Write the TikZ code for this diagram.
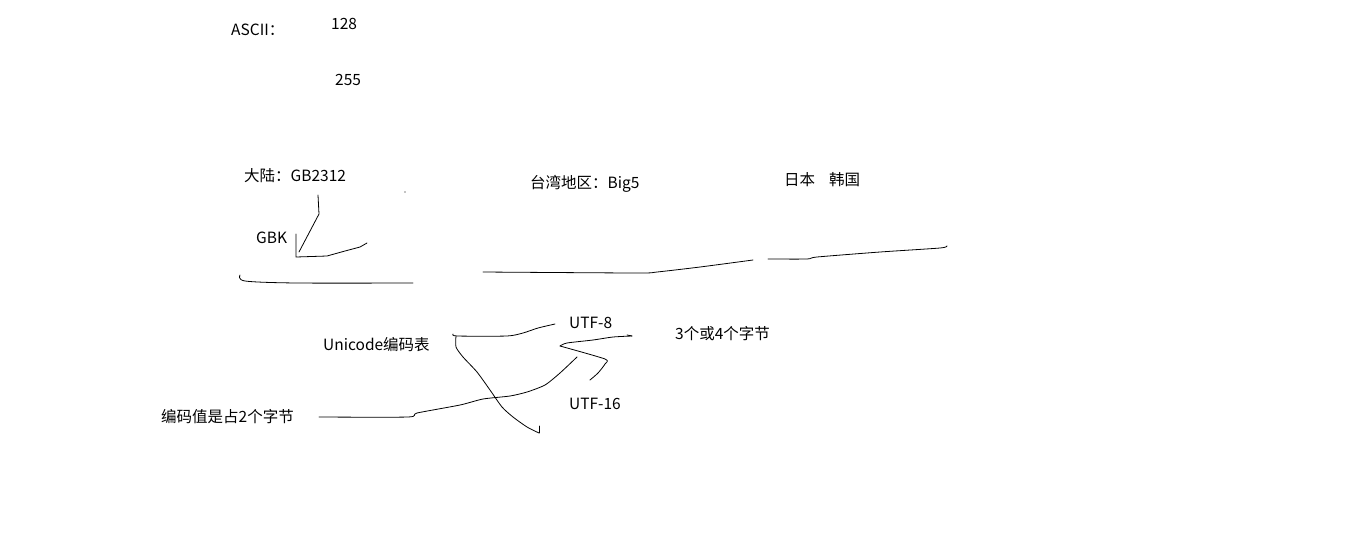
\documentclass[tikz,border=0pt]{standalone}
\usepackage{fontspec}
\setmainfont{Noto Sans CJK SC}
\begin{document}
\begin{tikzpicture}[x=1pt,y=-1pt,
  lbl/.style={anchor=west,inner sep=0pt,font=\fontsize{15.5}{17}\selectfont},
  stroke/.style={line width=0.8pt,line join=round,line cap=round}]
\useasboundingbox[fill=white] (0,0) rectangle (1352,539);
% texts
\node[lbl] (ascii) at (231,30) {ASCII：};
\node[lbl] (n128) at (331,24) {128};
\node[lbl] (n255) at (335,80) {255};
\node[lbl] (gb) at (244,176) {大陆：GB2312};
\node[lbl] (gbk) at (256,238) {GBK};
\node[lbl] (big5) at (530,184) {台湾地区：Big5};
\node[lbl] (jk) at (784,180) {日本\hspace{0.9em}韩国};
\node[lbl] (uni) at (323,345) {Unicode编码表};
\node[lbl] (utf8) at (569,323) {UTF-8};
\node[lbl] (b34) at (675,334) {3个或4个字节};
\node[lbl] (utf16) at (569,404) {UTF-16};
\node[lbl] (b2) at (161,417) {编码值是占2个字节};
% strokes
\draw[stroke] (318,195) -- (319,214) -- (299,252);
\draw[stroke] (296,234) -- (296,257) -- (327,256) -- (345,251) -- (360,247) -- (367,243);
\fill (405,192) circle (0.6);
\draw[stroke] plot[smooth,tension=0.5] coordinates {(240,275) (245,281) (297,283) (413,283)};
\draw[stroke] plot[smooth,tension=0.4] coordinates {(483,272) (637,273) (657,272) (700,267) (753,260)};
\draw[stroke] plot[smooth,tension=0.4] coordinates {(768,259) (807,259) (817,257) (880,252) (940,248) (947,246)};
\draw[stroke] plot[smooth,tension=0.4] coordinates {(453,334) (457,336) (507,336) (523,333) (538,328) (555,324)};
\draw[stroke] plot[smooth,tension=0.4] coordinates {(456,336) (456,347) (463,357) (477,372) (490,390) (502,407) (513,417) (527,427) (539,433)};
\draw[stroke] (539,433) -- (539,426);
\draw[stroke] plot[smooth,tension=0.4] coordinates {(319,417) (408,417) (417,413) (460,405) (483,399) (510,396) (527,392) (545,385) (560,373) (577,357)};
\draw[stroke] plot[smooth,tension=0.4] coordinates {(560,346) (567,343) (593,340) (613,337) (632,336)};
\draw[stroke] (627,335) -- (632,336);
\draw[stroke] plot[smooth,tension=0.4] coordinates {(560,346) (605,359) (605,364) (598,373) (590,380)};
\end{tikzpicture}
\end{document}
